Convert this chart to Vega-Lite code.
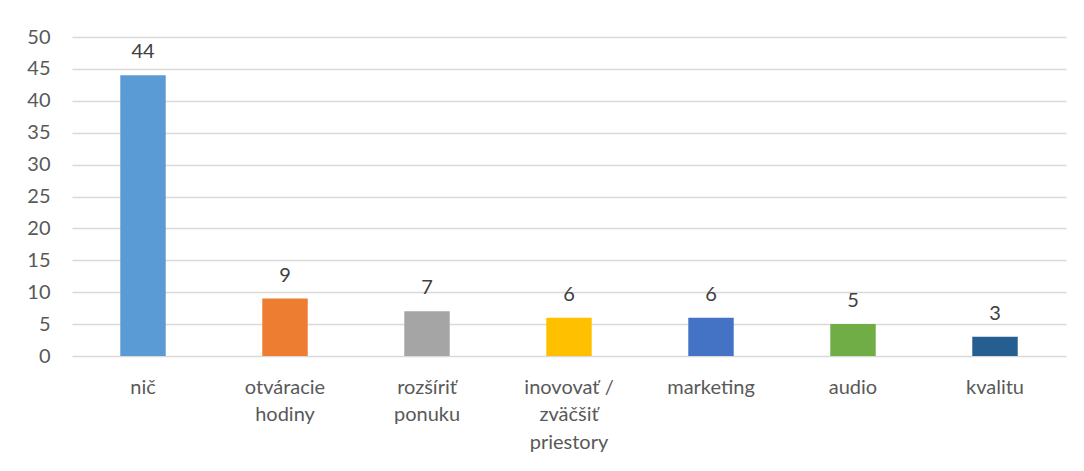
{
  "$schema": "https://vega.github.io/schema/vega-lite/v6.json",
  "width": 994,
  "height": 319,
  "autosize": "none",
  "padding": {"left": 72, "top": 37, "right": 18, "bottom": 115},
  "background": "white",
  "config": {
    "view": {"stroke": null},
    "font": "Lato"
  },
  "data": {
    "values": [
      {"kategoria": "nič", "pocet": 44, "farba": "#5B9BD5"},
      {"kategoria": "otváracie hodiny", "pocet": 9, "farba": "#ED7D31"},
      {"kategoria": "rozšíriť ponuku", "pocet": 7, "farba": "#A5A5A5"},
      {"kategoria": "inovovať / zväčšiť priestory", "pocet": 6, "farba": "#FFC000"},
      {"kategoria": "marketing", "pocet": 6, "farba": "#4472C4"},
      {"kategoria": "audio", "pocet": 5, "farba": "#70AD47"},
      {"kategoria": "kvalitu", "pocet": 3, "farba": "#255E91"}
    ]
  },
  "encoding": {
    "x": {
      "field": "kategoria",
      "type": "nominal",
      "sort": null,
      "scale": {"paddingInner": 0.68, "paddingOuter": 0.34},
      "axis": {
        "title": null,
        "domain": false,
        "ticks": false,
        "labelAngle": 0,
        "labelFont": "Lato",
        "labelFontSize": 20,
        "labelColor": "#595959",
        "labelPadding": 21,
        "labelLineHeight": 27.5,
        "labelBaseline": "top",
        "labelExpr": "datum.value == 'inovovať / zväčšiť priestory' ? ['inovovať /', 'zväčšiť', 'priestory'] : split(datum.value, ' ')"
      }
    },
    "y": {
      "field": "pocet",
      "type": "quantitative",
      "scale": {"domain": [0, 50], "nice": false},
      "axis": {
        "title": null,
        "values": [0, 5, 10, 15, 20, 25, 30, 35, 40, 45, 50],
        "domain": false,
        "ticks": false,
        "labelFont": "Lato",
        "labelFontSize": 20,
        "labelColor": "#595959",
        "labelPadding": 22,
        "gridColor": "#D9D9D9",
        "gridWidth": 1.5
      }
    }
  },
  "layer": [
    {
      "mark": {"type": "bar"},
      "encoding": {
        "color": {"field": "farba", "type": "nominal", "scale": null, "legend": null}
      }
    },
    {
      "mark": {"type": "text", "baseline": "alphabetic", "dy": -17, "font": "Lato", "fontSize": 20, "color": "#404040"},
      "encoding": {
        "text": {"field": "pocet", "type": "quantitative"}
      }
    }
  ]
}
